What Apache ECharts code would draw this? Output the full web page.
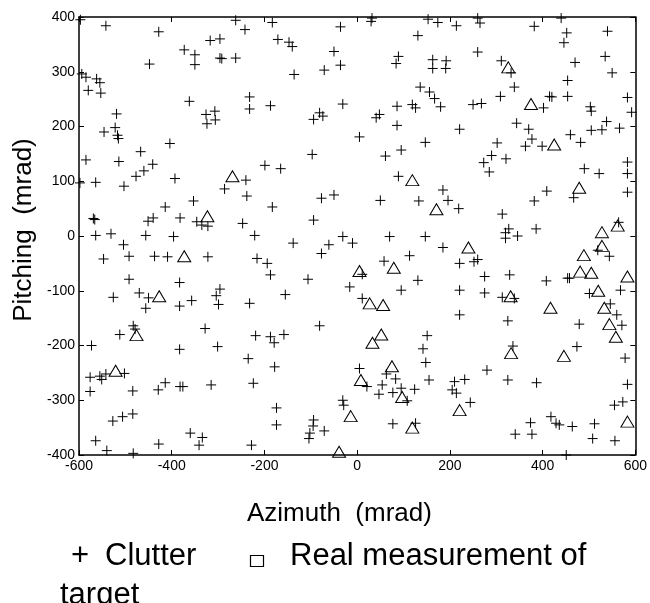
<!DOCTYPE html>
<html>
<head>
<meta charset="utf-8">
<script src="https://cdn.jsdelivr.net/npm/echarts@6/dist/echarts.min.js"></script>
<style>html,body{margin:0;padding:0;background:#fff}#c{width:650px;height:603px}</style>
</head>
<body>
<div id="c"></div>
<script>
var xTicks = [-600, -400, -200, 0, 200, 400, 600];
var yTicks = [-400, -300, -200, -100, 0, 100, 200, 300, 400];
var xTitle = 'Azimuth  (mrad)';
var yTitle = 'Pitching  (mrad)';
var legendClutter = 'Clutter';
var legendTarget1 = 'Real measurement of';
var legendTarget2 = 'target';

var clutter = [
[-597,395],[-542,384],[-428,373],[-262,394],[-242,377],[-373,340],[-350,331],[-350,313],[-317,357],[-296,360],[-296,325],[-292,324],[-262,325],[-448,314],[-594,296],[-585,290],[-562,287],[-555,280],[-580,266],[-553,261],[-362,246],[-585,139],[-598,97],[-564,98],[-519,223],[-522,198],[-517,184],[-515,178],[-546,190],[-514,136],[-503,91],[-477,109],[-460,119],[-441,131],[-467,154],[-404,169],[-393,105],[-326,222],[-307,228],[-324,205],[-306,212],[-286,86],[-240,102],[-238,73],[-353,64],[-414,53],[-382,33],[-440,33],[-451,27],[-569,32],[-566,30],[-335,20],[-322,18],[-346,26],[-247,23],
[-183,390],[-171,359],[-147,354],[-140,346],[-136,295],[-36,382],[-50,337],[-71,303],[-36,312],[32,398],[30,392],[89,328],[84,315],[131,366],[153,396],[174,390],[163,322],[163,306],[192,320],[191,306],[-232,254],[-232,232],[-187,238],[-81,225],[-74,219],[-94,213],[-31,241],[48,222],[41,216],[86,237],[119,240],[126,234],[136,272],[156,263],[167,251],[180,236],[86,202],[5,181],[147,171],[95,157],[61,146],[-97,149],[-199,129],[-165,123],[-183,53],[-77,69],[-50,75],[50,65],[89,109],[185,84],[133,64],[196,65],[-94,29],[-221,1],[-31,-1],[70,-1],[147,-1],
[214,384],[260,398],[265,389],[260,336],[382,383],[440,398],[452,371],[446,353],[540,374],[535,328],[550,298],[470,317],[311,320],[332,298],[339,272],[309,255],[454,284],[415,255],[420,254],[454,255],[402,234],[250,240],[268,242],[503,236],[505,228],[583,253],[592,226],[344,206],[370,195],[377,177],[363,164],[399,164],[221,195],[460,185],[482,171],[505,193],[528,194],[538,209],[566,197],[302,170],[290,147],[273,134],[285,117],[321,141],[490,123],[522,114],[583,135],[583,114],[583,80],[467,70],[409,82],[382,64],[219,50],[313,40],[327,13],[320,6],[346,0],[386,13],[564,25],
[-564,1],[-531,4],[-456,1],[-396,-1],[-504,-16],[-492,-37],[-547,-42],[-437,-37],[-409,-38],[-322,-38],[-492,-79],[-526,-112],[-470,-104],[-450,-113],[-456,-132],[-383,-85],[-383,-128],[-357,-118],[-304,-109],[-296,-97],[-299,-125],[-483,-164],[-479,-170],[-512,-180],[-328,-169],[-383,-207],[-301,-202],[-573,-200],[-576,-258],[-576,-284],[-555,-256],[-551,-262],[-542,-252],[-502,-251],[-484,-283],[-429,-281],[-414,-268],[-382,-275],[-376,-275],[-315,-272],[-527,-338],[-506,-330],[-484,-325],[-564,-374],[-540,-392],[-483,-397],[-428,-380],[-360,-360],[-341,-382],[-334,-368],
[-138,-13],[-77,-32],[-61,-16],[-10,-13],[185,-21],[-216,-41],[-194,-50],[-187,-71],[-106,-79],[58,-46],[113,-36],[11,-70],[131,-81],[-16,-93],[95,-99],[-155,-107],[-232,-123],[11,-114],[-81,-164],[-219,-182],[-187,-184],[-179,-195],[-158,-180],[151,-182],[142,-206],[148,-231],[-235,-224],[-178,-239],[-224,-269],[5,-242],[63,-252],[83,-261],[21,-275],[54,-272],[47,-289],[77,-286],[95,-278],[108,-301],[124,-280],[155,-263],[-174,-314],[-174,-345],[-31,-300],[-29,-309],[-94,-336],[-95,-347],[-71,-356],[-102,-360],[-104,-370],[77,-343],[126,-342],[-228,-382],
[320,-4],[221,-50],[252,-47],[260,-43],[275,-74],[329,-71],[519,-26],[544,-37],[408,-82],[454,-77],[458,-77],[221,-99],[275,-104],[313,-112],[339,-114],[501,-105],[568,-99],[546,-124],[560,-144],[571,-163],[221,-144],[325,-155],[479,-161],[336,-201],[474,-202],[578,-223],[280,-245],[210,-266],[232,-262],[205,-281],[214,-287],[325,-263],[387,-268],[244,-304],[583,-271],[555,-309],[573,-303],[418,-330],[429,-342],[436,-345],[464,-348],[512,-343],[374,-341],[341,-362],[377,-362],[508,-370],[556,-374],[451,-400]
];

var targets = [
[-269,109],[-323,36],[119,102],[171,49],[326,308],[375,241],[425,167],[479,88],[528,7],[562,19],
[-373,-37],[-427,-110],[-476,-181],[-521,-246],[79,-58],[5,-64],[27,-123],[56,-126],[52,-180],[33,-195],
[75,-238],[8,-263],[97,-294],[-14,-329],[119,-350],[-39,-394],[240,-21],[489,-35],[528,-18],[481,-65],
[505,-67],[583,-74],[331,-110],[520,-100],[417,-131],[533,-131],[544,-161],[558,-184],[332,-214],[446,-219],
[221,-318],[583,-339]
];

var FONT = '"Liberation Sans", Arial, sans-serif';
var chart = echarts.init(document.getElementById('c'), null, {renderer: 'canvas'});

function xAx(pos, showLabel) {
  return {
    type: 'value', min: xTicks[0], max: xTicks[xTicks.length - 1], interval: 200, position: pos,
    axisLine: {show: true, onZero: false, lineStyle: {color: '#000', width: 1.5}},
    axisTick: {show: true, inside: true, length: 5, lineStyle: {color: '#000', width: 1}},
    axisLabel: {show: showLabel, color: '#000', fontSize: 14, fontFamily: FONT, margin: 4},
    splitLine: {show: false}
  };
}
function yAx(pos, showLabel) {
  return {
    type: 'value', min: yTicks[0], max: yTicks[yTicks.length - 1], interval: 100, position: pos,
    axisLine: {show: true, onZero: false, lineStyle: {color: '#000', width: 1.5}},
    axisTick: {show: true, inside: true, length: 5, lineStyle: {color: '#000', width: 1}},
    axisLabel: {show: showLabel, color: '#000', fontSize: 14, fontFamily: FONT, margin: 4},
    splitLine: {show: false}
  };
}

chart.setOption({
  animation: false,
  backgroundColor: '#fff',
  grid: {left: 79, right: 14, top: 17, bottom: 148},
  xAxis: [xAx('bottom', true), xAx('top', false)],
  yAxis: [yAx('left', true), yAx('right', false)],
  series: [
    {
      name: 'Clutter', type: 'scatter', xAxisIndex: 0, yAxisIndex: 0,
      symbol: 'path://M5,0L5,10M0,5L10,5', symbolSize: 10,
      itemStyle: {color: 'rgba(0,0,0,0)', borderColor: '#000', borderWidth: 1, opacity: 1},
      data: clutter, silent: true
    },
    {
      name: 'Target', type: 'scatter', xAxisIndex: 0, yAxisIndex: 0,
      symbol: 'triangle', symbolSize: [13, 11],
      itemStyle: {color: 'rgba(0,0,0,0)', borderColor: '#000', borderWidth: 1, opacity: 1},
      data: targets, silent: true, z: 3
    }
  ],
  graphic: [
    {type: 'text', x: 247, y: 514, style: {text: xTitle, font: '26px ' + FONT, fill: '#000', align: 'left', verticalAlign: 'middle'}},
    {type: 'text', x: 24, y: 230, rotation: Math.PI / 2, style: {text: yTitle, font: '26px ' + FONT, fill: '#000', align: 'center', verticalAlign: 'middle'}},
    {type: 'text', x: 71, y: 556, style: {text: '+', font: '31px ' + FONT, fill: '#000', align: 'left', verticalAlign: 'middle'}},
    {type: 'text', x: 105, y: 556, style: {text: legendClutter, font: '31px ' + FONT, fill: '#000', align: 'left', verticalAlign: 'middle'}},
    {type: 'rect', shape: {x: 250.5, y: 555.5, width: 13, height: 11}, style: {fill: '#fff', stroke: '#000', lineWidth: 1.2}},
    {type: 'text', x: 290, y: 556, style: {text: legendTarget1, font: '31px ' + FONT, fill: '#000', align: 'left', verticalAlign: 'middle'}},
    {type: 'text', x: 60, y: 595, style: {text: legendTarget2, font: '31px ' + FONT, fill: '#000', align: 'left', verticalAlign: 'middle'}}
  ]
});
</script>
</body>
</html>
